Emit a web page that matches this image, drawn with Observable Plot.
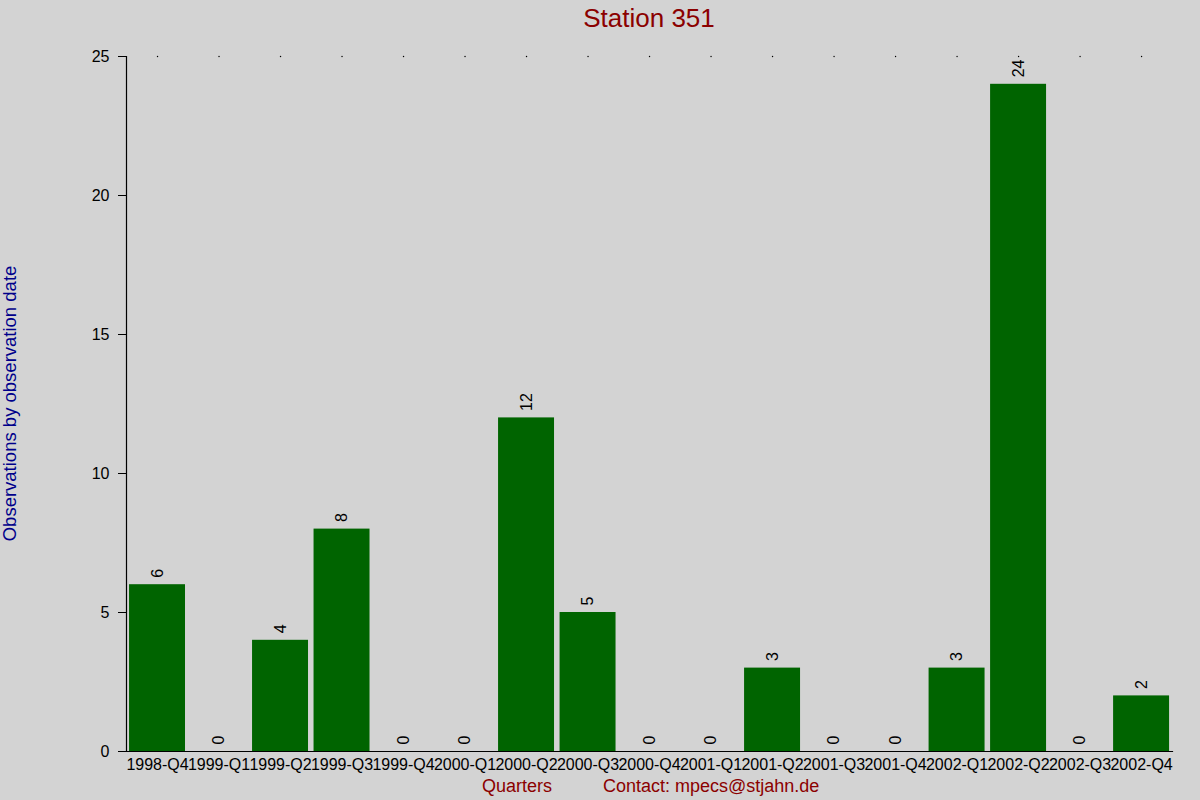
<!DOCTYPE html>
<html>
<head>
<meta charset="utf-8">
<script src="https://cdn.jsdelivr.net/npm/d3@7"></script>
<script src="https://cdn.jsdelivr.net/npm/@observablehq/plot@0.6"></script>
<style>
  html, body { margin: 0; padding: 0; background: #d3d3d3; }
  #chart { width: 1200px; height: 800px; }
</style>
</head>
<body>
<div id="chart"></div>
<script>
const quarters = ["1998-Q4","1999-Q1","1999-Q2","1999-Q3","1999-Q4","2000-Q1","2000-Q2","2000-Q3","2000-Q4","2001-Q1","2001-Q2","2001-Q3","2001-Q4","2002-Q1","2002-Q2","2002-Q3","2002-Q4"];
const counts = [6,0,4,8,0,0,12,5,0,0,3,0,0,3,24,0,2];
const yTicks = [0,5,10,15,20,25];
const titleText = "Station 351";
const yLabel = "Observations by observation date";
const xLabel = "Quarters";
const contact = "Contact: mpecs@stjahn.de";

const data = quarters.map((q, i) => ({q, v: counts[i]}));

const W = 1200, H = 800;
const mL = 126, mR = 28, mT = 56, mB = 49;

const plot = Plot.plot({
  width: W,
  height: H,
  marginLeft: mL,
  marginRight: mR,
  marginTop: mT,
  marginBottom: mB,
  style: {background: "#d3d3d3", fontFamily: "Liberation Sans, Arial, sans-serif", fontSize: "16px", color: "black"},
  x: {domain: quarters, range: [123.5, 1174.6], padding: 0.09, round: false, label: null},
  y: {domain: [0, 25], label: null},
  marks: [
    Plot.barY(data, {x: "q", y: "v", fill: "#006400"}),
    Plot.axisY({ticks: yTicks, tickSize: 8, tickPadding: 9, label: null, fontSize: 16, stroke: "black"}),
    Plot.axisX({tickSize: 0, tickPadding: 7, label: null, fontSize: 16, letterSpacing: "-0.3px"}),
    Plot.frame({anchor: "left", stroke: "black", strokeWidth: 1.2}),
    Plot.frame({anchor: "bottom", stroke: "black", strokeWidth: 1.2}),
    Plot.dot(quarters, {x: d => d, y: () => 25, r: 0.7, fill: "black", stroke: null}),
    Plot.text(data, {x: "q", y: "v", text: d => String(d.v), rotate: -90, textAnchor: "start", dy: -7, fontSize: 16, fill: "black"})
  ]
});

document.getElementById("chart").appendChild(plot);

const svg = d3.select(plot);
svg.append("text")
  .attr("x", (mL + W - mR) / 2).attr("y", 27)
  .attr("text-anchor", "middle")
  .attr("fill", "#8b0000")
  .style("font-size", "26px")
  .text(titleText);
svg.append("text")
  .attr("transform", `translate(16, ${(mT + H - mB) / 2}) rotate(-90)`)
  .attr("text-anchor", "middle")
  .attr("fill", "#00008b")
  .style("font-size", "18.5px")
  .text(yLabel);
svg.append("text")
  .attr("x", 517).attr("y", 792)
  .attr("text-anchor", "middle")
  .attr("fill", "#8b0000")
  .style("font-size", "18px")
  .text(xLabel);
svg.append("text")
  .attr("x", 603).attr("y", 792)
  .attr("text-anchor", "start")
  .attr("fill", "#8b0000")
  .style("font-size", "18px")
  .text(contact);
</script>
</body>
</html>
